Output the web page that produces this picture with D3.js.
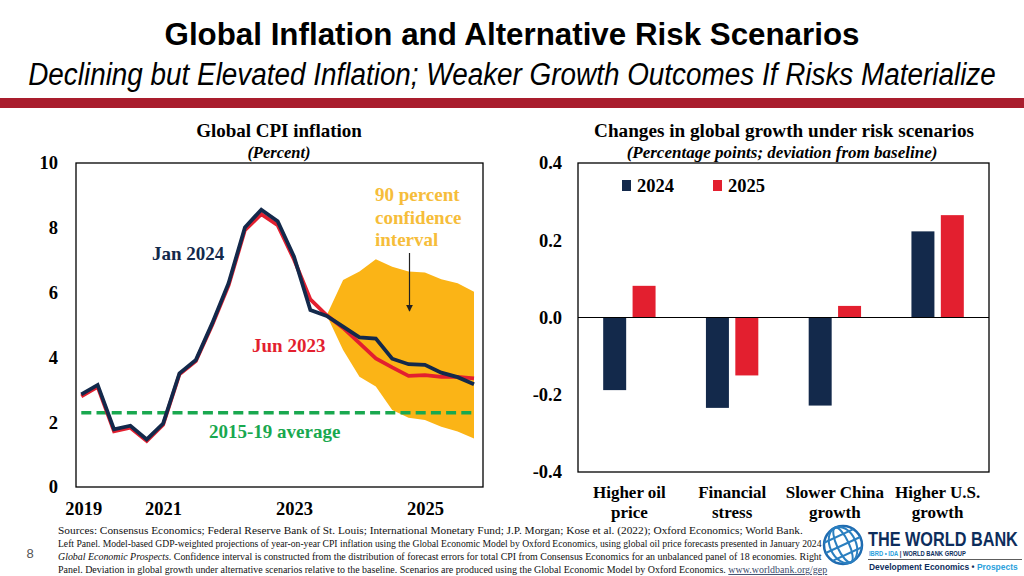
<!DOCTYPE html>
<html>
<head>
<meta charset="utf-8">
<script src="https://cdn.jsdelivr.net/npm/d3@7"></script>
<style>
  html, body { margin: 0; padding: 0; background: #fff; }
  svg { display: block; }
</style>
</head>
<body>
<svg id="chart" width="1024" height="576"></svg>
<script>
// ---------------- DATA ----------------
const mainTitle = "Global Inflation and Alternative Risk Scenarios";
const mainSubtitle = "Declining but Elevated Inflation; Weaker Growth Outcomes If Risks Materialize";

// Left panel: quarterly index 0..24
const jan2024 = [2.86, 3.15, 1.78, 1.89, 1.47, 1.96, 3.51, 3.92, 5.05, 6.29, 8.01, 8.56, 8.20, 7.11, 5.46, 5.28, 4.95, 4.62, 4.58, 3.96, 3.79, 3.77, 3.53, 3.39, 3.17];
const jun2023 = [2.80, 3.09, 1.72, 1.83, 1.42, 1.92, 3.48, 3.89, 5.00, 6.22, 7.93, 8.42, 8.08, 7.02, 5.79, 5.30, 4.91, 4.44, 3.97, 3.69, 3.43, 3.45, 3.40, 3.40, 3.35];
const bandStart = 15;
const bandUpper = [5.30, 6.39, 6.65, 7.03, 6.80, 6.65, 6.62, 6.41, 6.29, 6.03];
const bandLower = [5.30, 4.23, 3.40, 3.10, 2.38, 2.14, 2.07, 1.86, 1.71, 1.50];
const avg2015_19 = 2.29;
const xTickIndex = [0, 5, 13, 21];
const xTickLabels = ["2019", "2021", "2023", "2025"];
const yTicksLeft = [0, 2, 4, 6, 8, 10];

// Right panel
const scenarios = [["Higher oil", "price"], ["Financial", "stress"], ["Slower China", "growth"], ["Higher U.S.", "growth"]];
const seriesKeys = ["2024", "2025"];
const growth2024 = [-0.188, -0.234, -0.228, 0.223];
const growth2025 = [0.082, -0.150, 0.030, 0.265];
const yTicksRight = [0.4, 0.2, 0.0, -0.2, -0.4];

const footerLines = [
  "Sources: Consensus Economics; Federal Reserve Bank of St. Louis; International  Monetary Fund; J.P. Morgan; Kose et al. (2022); Oxford Economics; World Bank.",
  "Left Panel. Model-based GDP-weighted projections of year-on-year CPI inflation using the Global Economic Model by Oxford Economics, using global oil price forecasts presented in January 2024",
  "Confidence interval is constructed from the distribution of forecast errors for total CPI from Consensus Economics for an unbalanced panel of 18 economies. Right",
  "Panel. Deviation  in global growth under alternative  scenarios relative  to the baseline.  Scenarios are produced using the Global Economic Model by Oxford Economics. "
];

// ---------------- STYLE ----------------
const NAVY = "#13294b", RED = "#e31f2f", GREEN = "#19a84f", ORANGE = "#fbb416", ORANGE_TXT = "#f6bd3a";
const SERIF = "'Liberation Serif','Times New Roman',serif";
const NARROW = "'Liberation Sans Narrow','Arial Narrow','Liberation Sans',Arial,sans-serif";
const TICK_FS = 18.5;

const svg = d3.select("#chart");

// helper: force text width by horizontal scaling
function fit(sel, w) {
  const len = sel.node().getComputedTextLength();
  const x = +sel.attr("x") || 0;
  const s = w / len;
  sel.attr("transform", `translate(${x},0) scale(${s},1) translate(${-x},0)`);
}
// helper: pick font-size so natural width = w, then stretch vertically to look like size `fs`
function fitHeadline(sel, w, fs) {
  sel.attr("font-size", fs);
  const len = sel.node().getComputedTextLength();
  const newFs = fs * w / len;
  sel.attr("font-size", newFs);
  const x = +sel.attr("x"), y = +sel.attr("y");
  const sy = fs / newFs;
  sel.attr("transform", `translate(${x},${y}) scale(1,${sy}) translate(${-x},${-y})`);
}

// ---------------- HEADER ----------------
const t1 = svg.append("text").attr("x", 512).attr("y", 45).attr("text-anchor", "middle")
  .attr("font-family", NARROW).attr("font-weight", "bold").attr("fill", "#000")
  .text(mainTitle);
fitHeadline(t1, 695, 31);
const t2 = svg.append("text").attr("x", 512).attr("y", 85).attr("text-anchor", "middle")
  .attr("font-family", NARROW).attr("font-style", "italic").attr("fill", "#000")
  .text(mainSubtitle);
fitHeadline(t2, 968, 31);

svg.append("rect").attr("x", 0).attr("y", 98).attr("width", 1024).attr("height", 10).attr("fill", "#a91d2d");

// ---------------- LEFT PANEL ----------------
const L = { x0: 76, x1: 483, y0: 163, y1: 487 };
const xL = d3.scaleLinear().domain([0, 24]).range([81.3, 474]);
const yL = d3.scaleLinear().domain([0, 10]).range([L.y1, L.y0]);

svg.append("text").attr("x", 279).attr("y", 137).attr("text-anchor", "middle")
  .attr("font-family", SERIF).attr("font-weight", "bold").attr("font-size", 19).text("Global CPI inflation");
svg.append("text").attr("x", 279).attr("y", 158).attr("text-anchor", "middle")
  .attr("font-family", SERIF).attr("font-weight", "bold").attr("font-style", "italic").attr("font-size", 16.5).text("(Percent)");

// band
const bandData = bandUpper.map((u, i) => ({ i: bandStart + i, u, l: bandLower[i] }));
svg.append("path").datum(bandData)
  .attr("d", d3.area().x(d => xL(d.i)).y0(d => yL(d.l)).y1(d => yL(d.u)))
  .attr("fill", ORANGE);

// average dashed line
svg.append("line").attr("x1", xL(0)).attr("x2", xL(24)).attr("y1", yL(avg2015_19)).attr("y2", yL(avg2015_19))
  .attr("stroke", GREEN).attr("stroke-width", 3.6).attr("stroke-dasharray", "10,5.2");

const lineGen = d3.line().x((d, i) => xL(i)).y(d => yL(d));
svg.append("path").datum(jun2023).attr("d", lineGen).attr("fill", "none")
  .attr("stroke", RED).attr("stroke-width", 3.8).attr("stroke-linejoin", "miter");
svg.append("path").datum(jan2024).attr("d", lineGen).attr("fill", "none")
  .attr("stroke", NAVY).attr("stroke-width", 3.8).attr("stroke-linejoin", "miter");

// frame
svg.append("rect").attr("x", L.x0).attr("y", L.y0).attr("width", L.x1 - L.x0).attr("height", L.y1 - L.y0)
  .attr("fill", "none").attr("stroke", "#000").attr("stroke-width", 1.3);

// axes
const yAxL = svg.append("g").attr("transform", `translate(${L.x0},0)`)
  .call(d3.axisLeft(yL).tickValues(yTicksLeft).tickSize(0).tickPadding(18).tickFormat(d3.format("d")));
const xAxL = svg.append("g").attr("transform", `translate(0,${L.y1})`)
  .call(d3.axisBottom(xL).tickValues(xTickIndex).tickSize(0).tickPadding(15).tickFormat((d, i) => xTickLabels[i]));
[yAxL, xAxL].forEach(g => {
  g.select(".domain").remove();
  g.selectAll("text").attr("font-family", SERIF).attr("font-weight", "bold").attr("font-size", TICK_FS).attr("fill", "#000");
});
xAxL.selectAll(".tick").filter((d, i) => i === 0).select("text").attr("dx", 2);

// annotations
svg.append("text").attr("x", 152).attr("y", 260).attr("font-family", SERIF).attr("font-weight", "bold")
  .attr("font-size", 19).attr("fill", NAVY).text("Jan 2024");
svg.append("text").attr("x", 252).attr("y", 352).attr("font-family", SERIF).attr("font-weight", "bold")
  .attr("font-size", 19).attr("fill", RED).text("Jun 2023");
svg.append("text").attr("x", 209).attr("y", 438).attr("font-family", SERIF).attr("font-weight", "bold")
  .attr("font-size", 19).attr("fill", GREEN).text("2015-19 average");
["90 percent", "confidence", "interval"].forEach((s, i) => {
  svg.append("text").attr("x", 375).attr("y", 201 + i * 22.5).attr("font-family", SERIF).attr("font-weight", "bold")
    .attr("font-size", 19).attr("fill", ORANGE_TXT).text(s);
});
svg.append("defs").append("marker").attr("id", "arr").attr("viewBox", "0 0 10 10").attr("refX", 9).attr("refY", 5)
  .attr("markerWidth", 6).attr("markerHeight", 6).attr("orient", "auto")
  .append("path").attr("d", "M0,0 L10,5 L0,10 z").attr("fill", "#222");
svg.append("line").attr("x1", 409.5).attr("x2", 409.5).attr("y1", 253).attr("y2", 311)
  .attr("stroke", "#222").attr("stroke-width", 1.2).attr("marker-end", "url(#arr)");

// ---------------- RIGHT PANEL ----------------
const R = { x0: 578, x1: 989, y0: 163, y1: 472 };
const x0R = d3.scaleBand().domain(d3.range(scenarios.length)).range([R.x0, R.x1]).padding(0);
const x1R = d3.scaleBand().domain(seriesKeys).range([0, x0R.bandwidth()]).paddingInner(0.218).paddingOuter(0.857);
const yR = d3.scaleLinear().domain([-0.4, 0.4]).range([R.y1, R.y0]);
const colorR = d3.scaleOrdinal().domain(seriesKeys).range([NAVY, RED]);

svg.append("text").attr("x", 784).attr("y", 137).attr("text-anchor", "middle")
  .attr("font-family", SERIF).attr("font-weight", "bold").attr("font-size", 19.2).text("Changes in global growth under risk scenarios");
svg.append("text").attr("x", 782).attr("y", 158).attr("text-anchor", "middle")
  .attr("font-family", SERIF).attr("font-weight", "bold").attr("font-style", "italic").attr("font-size", 17)
  .text("(Percentage points; deviation from baseline)");

const barRows = scenarios.map((s, i) => ({ i, vals: [{ k: "2024", v: growth2024[i] }, { k: "2025", v: growth2025[i] }] }));
const grp = svg.append("g").selectAll("g").data(barRows).join("g")
  .attr("transform", d => `translate(${x0R(d.i)},0)`);
grp.selectAll("rect").data(d => d.vals).join("rect")
  .attr("x", d => x1R(d.k)).attr("width", x1R.bandwidth())
  .attr("y", d => yR(Math.max(0, d.v))).attr("height", d => Math.abs(yR(d.v) - yR(0)))
  .attr("fill", d => colorR(d.k));

svg.append("line").attr("x1", R.x0).attr("x2", R.x1).attr("y1", yR(0)).attr("y2", yR(0))
  .attr("stroke", "#000").attr("stroke-width", 1.2);
svg.append("rect").attr("x", R.x0).attr("y", R.y0).attr("width", R.x1 - R.x0).attr("height", R.y1 - R.y0)
  .attr("fill", "none").attr("stroke", "#000").attr("stroke-width", 1.3);

const yAxR = svg.append("g").attr("transform", `translate(${R.x0},0)`)
  .call(d3.axisLeft(yR).tickValues(yTicksRight).tickSize(0).tickPadding(16).tickFormat(d => d.toFixed(1).replace("−", "-")));
yAxR.select(".domain").remove();
yAxR.selectAll("text").attr("font-family", SERIF).attr("font-weight", "bold").attr("font-size", TICK_FS).attr("fill", "#000");

const xAxR = svg.append("g").attr("transform", `translate(0,${R.y1})`)
  .call(d3.axisBottom(d3.scaleBand().domain(d3.range(scenarios.length)).range([R.x0, R.x1])).tickSize(0).tickFormat(""));
xAxR.select(".domain").remove();
xAxR.selectAll(".tick text").each(function (d) {
  const t = d3.select(this).attr("y", 0).attr("dy", null)
    .attr("font-family", SERIF).attr("font-weight", "bold").attr("font-size", 17).attr("fill", "#000");
  scenarios[d].forEach((line, j) => {
    t.append("tspan").attr("x", 0).attr("y", 26 + j * 19.5).text(line);
  });
});

// legend
seriesKeys.forEach((k, i) => {
  const lx = 622 + i * 91;
  svg.append("rect").attr("x", lx).attr("y", 180).attr("width", 9).attr("height", 11).attr("fill", colorR(k));
  svg.append("text").attr("x", lx + 15).attr("y", 191.5).attr("font-family", SERIF).attr("font-weight", "bold")
    .attr("font-size", 18.5).attr("fill", "#000").text(k);
});

// ---------------- FOOTER ----------------
const FS = 9.6;
const f1 = svg.append("text").attr("x", 58).attr("y", 534).attr("font-family", SERIF).attr("font-size", FS).attr("fill", "#111").text(footerLines[0]);
fit(f1, 745);
const f2 = svg.append("text").attr("x", 58).attr("y", 547).attr("font-family", SERIF).attr("font-size", FS).attr("fill", "#111").text(footerLines[1]);
fit(f2, 764);
const f3 = svg.append("text").attr("x", 58).attr("y", 560).attr("font-family", SERIF).attr("font-size", FS).attr("fill", "#111");
f3.append("tspan").attr("font-style", "italic").text("Global Economic Prospects");
f3.append("tspan").text(". " + footerLines[2]);
fit(f3, 764);
const f4 = svg.append("text").attr("x", 58).attr("y", 573).attr("font-family", SERIF).attr("font-size", FS).attr("fill", "#111");
f4.append("tspan").text(footerLines[3]);
f4.append("tspan").attr("text-decoration", "underline").attr("fill", "#3b4a6b").text("www.worldbank.org/gep");
fit(f4, 770);

svg.append("text").attr("x", 30).attr("y", 558).attr("text-anchor", "middle").attr("font-family", "'Liberation Sans',Arial,sans-serif")
  .attr("font-size", 13).attr("fill", "#555").text("8");

// ---------------- LOGO ----------------
const logo = svg.append("g").attr("transform", "translate(843,545)");
logo.append("circle").attr("r", 19).attr("fill", "none").attr("stroke", "#1f6bb0").attr("stroke-width", 2.5);
[[13, 19], [6, 19]].forEach(([rx, ry]) => {
  logo.append("ellipse").attr("rx", rx).attr("ry", ry).attr("fill", "none").attr("stroke", "#2a7fc0").attr("stroke-width", 2)
    .attr("transform", "rotate(-25)");
});
[-10, 0, 10].forEach(yy => {
  const hw = Math.sqrt(19 * 19 - yy * yy);
  logo.append("line").attr("x1", -hw).attr("x2", hw).attr("y1", yy).attr("y2", yy)
    .attr("stroke", "#2a7fc0").attr("stroke-width", 2).attr("transform", "rotate(-25)");
});
const wb = svg.append("text").attr("x", 868).attr("y", 546).attr("font-family", NARROW).attr("font-weight", "bold")
  .attr("font-size", 21).attr("fill", "#0d2d5c").text("THE WORLD BANK");
fit(wb, 150);
const ib = svg.append("text").attr("x", 869).attr("y", 556).attr("font-family", "'Liberation Sans',Arial,sans-serif").attr("font-weight", "bold")
  .attr("font-size", 7.5);
ib.append("tspan").attr("fill", "#2aa0dc").text("IBRD • IDA ");
ib.append("tspan").attr("fill", "#0d2d5c").text("| WORLD BANK GROUP");
fit(ib, 97);
svg.append("line").attr("x1", 868).attr("x2", 1022).attr("y1", 559.5).attr("y2", 559.5).attr("stroke", "#333").attr("stroke-width", 0.8);
const de = svg.append("text").attr("x", 869).attr("y", 570).attr("font-family", "'Liberation Sans',Arial,sans-serif").attr("font-weight", "bold")
  .attr("font-size", 9.5);
de.append("tspan").attr("fill", "#0d2d5c").text("Development Economics • ");
de.append("tspan").attr("fill", "#2aa0dc").text("Prospects");
fit(de, 149);
</script>
</body>
</html>
